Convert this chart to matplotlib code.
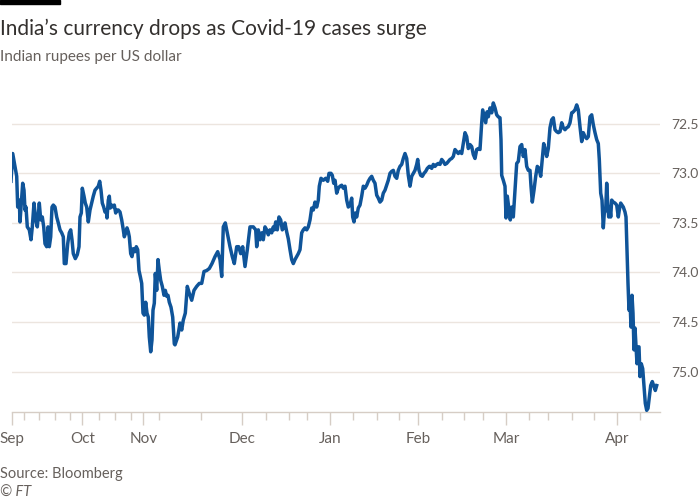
import numpy as np
import matplotlib
matplotlib.use("Agg")
import matplotlib.pyplot as plt

# session index (position along the trading timeline) and INR per USD
session = [
    11.0, 12.7, 15.0, 16.7, 17.7, 19.3, 20.0, 21.3, 22.7, 24.0, 25.0, 26.0, 27.3, 29.3, 31.0, 32.3,
    34.0, 35.7, 37.3, 39.3, 40.7, 42.3, 43.7, 45.0, 46.7, 48.0, 49.3, 50.7, 52.0, 53.3, 55.0, 56.7,
    58.3, 60.0, 61.7, 63.3, 64.3, 66.0, 67.7, 69.3, 70.7, 72.0, 73.3, 75.3, 77.3, 79.0, 80.0, 81.3,
    82.3, 84.0, 85.3, 86.7, 88.3, 90.0, 91.7, 93.3, 95.0, 96.7, 98.3, 99.7, 101.0, 102.3, 103.7, 105.0,
    106.3, 107.0, 108.3, 109.3, 110.3, 111.7, 113.3, 114.3, 115.7, 117.0, 118.3, 120.0, 121.7, 123.3, 124.3, 125.7,
    127.0, 128.3, 129.3, 130.7, 132.0, 133.3, 135.0, 136.3, 137.7, 139.0, 140.3, 141.7, 143.0, 144.3, 145.7, 147.0,
    148.3, 149.3, 150.7, 152.0, 153.0, 154.3, 155.3, 156.7, 158.0, 159.3, 160.7, 162.3, 164.0, 165.3, 166.7, 168.0,
    169.3, 171.0, 172.7, 174.3, 175.0, 177.7, 180.0, 181.7, 183.3, 185.3, 187.3, 189.3, 191.7, 194.0, 196.7, 199.3,
    201.7, 204.0, 206.7, 209.3, 212.0, 215.0, 217.7, 220.0, 221.7, 223.3, 225.3, 228.0, 230.0, 232.3, 234.3, 236.7,
    238.7, 240.7, 242.7, 245.0, 247.3, 250.0, 253.3, 255.7, 256.7, 258.3, 260.0, 261.7, 263.3, 265.0, 266.7, 268.3,
    270.0, 271.7, 273.3, 274.3, 275.7, 277.3, 279.0, 280.7, 282.3, 284.0, 285.0, 286.7, 288.3, 290.0, 291.7, 293.3,
    295.0, 296.7, 298.3, 300.0, 301.7, 303.3, 305.0, 306.7, 308.3, 310.0, 311.7, 313.3, 315.0, 316.7, 318.3, 319.3,
    321.0, 323.3, 325.7, 327.7, 329.0, 331.0, 332.3, 333.7, 335.0, 336.7, 338.3, 340.0, 341.7, 343.3, 345.0, 346.7,
    348.3, 350.0, 351.7, 352.7, 354.0, 355.3, 356.7, 358.3, 360.0, 361.7, 363.3, 365.0, 366.7, 368.3, 370.0, 371.7,
    373.3, 375.0, 376.7, 378.3, 380.0, 381.7, 383.3, 385.0, 386.7, 388.3, 390.0, 391.7, 393.3, 395.0, 396.7, 398.3,
    400.0, 401.7, 403.3, 405.0, 406.7, 408.3, 410.0, 411.7, 413.3, 415.0, 416.7, 417.7, 419.0, 420.7, 422.3, 424.0,
    425.7, 427.3, 429.3, 430.0, 431.7, 433.3, 435.0, 436.7, 438.3, 440.0, 441.7, 443.3, 445.0, 446.7, 448.3, 450.0,
    451.7, 453.3, 455.0, 456.7, 458.3, 460.0, 461.7, 463.3, 465.0, 466.7, 468.3, 470.0, 471.7, 473.3, 475.0, 476.7,
    478.3, 480.0, 481.7, 482.7, 484.3, 485.7, 487.0, 488.3, 490.0, 491.7, 493.3, 495.0, 496.7, 498.3, 500.0, 501.0,
    501.7, 503.3, 505.0, 506.0, 507.3, 509.0, 510.3, 511.7, 513.3, 515.0, 516.7, 518.3, 520.0, 521.7, 523.3, 525.0,
    526.7, 528.3, 530.0, 531.0, 532.3, 534.0, 535.7, 537.3, 539.0, 540.7, 542.3, 543.7, 545.0, 546.7, 548.3, 550.0,
    551.7, 553.3, 555.0, 556.7, 558.3, 560.0, 561.7, 563.3, 565.0, 566.7, 568.3, 570.0, 571.7, 573.3, 575.0, 576.7,
    578.3, 580.0, 581.7, 583.3, 585.0, 586.7, 588.3, 590.0, 591.7, 593.3, 595.0, 596.7, 598.3, 599.3, 600.7, 602.0,
    603.3, 604.3, 605.7, 606.7, 607.7, 608.7, 609.7, 610.7, 611.7, 613.3, 615.0, 616.7, 618.3, 619.3, 620.7, 622.0,
    623.3, 625.0, 626.0, 627.0, 628.0, 629.0, 630.0, 631.0, 632.0, 633.0, 634.0, 635.0, 636.0, 637.0, 638.0, 639.0,
    640.0, 641.3, 642.7, 644.0, 645.3, 646.7, 648.0, 649.3, 650.7, 652.3, 654.0, 655.3, 656.7,
]
rate = [
    73.08, 72.80, 72.93, 73.03, 73.34, 73.27, 73.49, 73.30, 73.10, 73.17, 73.37, 73.34, 73.54, 73.57, 73.67, 73.54,
    73.30, 73.47, 73.54, 73.30, 73.47, 73.44, 73.54, 73.71, 73.74, 73.54, 73.74, 73.64, 73.34, 73.32, 73.34, 73.44,
    73.50, 73.57, 73.60, 73.64, 73.91, 73.91, 73.71, 73.60, 73.57, 73.67, 73.81, 73.86, 73.82, 73.74, 73.44, 73.40,
    73.15, 73.23, 73.30, 73.34, 73.49, 73.37, 73.30, 73.23, 73.17, 73.15, 73.13, 73.08, 73.17, 73.30, 73.34, 73.39,
    73.37, 73.45, 73.27, 73.23, 73.35, 73.32, 73.34, 73.32, 73.40, 73.37, 73.37, 73.39, 73.47, 73.57, 73.64, 73.60,
    73.55, 73.59, 73.64, 73.81, 73.84, 73.76, 73.79, 73.74, 73.77, 73.98, 74.04, 74.11, 74.41, 74.43, 74.30, 74.41,
    74.45, 74.65, 74.80, 74.68, 74.38, 74.31, 74.01, 74.18, 73.87, 73.98, 74.08, 74.14, 74.23, 74.18, 74.24, 74.23,
    74.30, 74.35, 74.45, 74.72, 74.73, 74.65, 74.51, 74.58, 74.48, 74.41, 74.14, 74.21, 74.28, 74.18, 74.14, 74.11,
    74.11, 73.99, 73.98, 73.96, 73.91, 73.84, 73.79, 73.87, 74.04, 73.54, 73.50, 73.64, 73.74, 73.84, 73.91, 73.74,
    73.74, 73.81, 73.74, 73.94, 73.77, 73.54, 73.54, 73.57, 73.74, 73.57, 73.67, 73.60, 73.67, 73.54, 73.57, 73.62,
    73.57, 73.60, 73.54, 73.57, 73.49, 73.57, 73.44, 73.47, 73.57, 73.54, 73.50, 73.59, 73.66, 73.77, 73.87, 73.91,
    73.87, 73.84, 73.81, 73.77, 73.60, 73.57, 73.55, 73.57, 73.54, 73.47, 73.35, 73.37, 73.29, 73.34, 73.27, 73.13,
    73.05, 73.07, 73.05, 73.08, 73.00, 73.00, 73.02, 73.10, 73.07, 73.20, 73.15, 73.13, 73.12, 73.15, 73.13, 73.27,
    73.34, 73.32, 73.25, 73.44, 73.49, 73.40, 73.44, 73.35, 73.32, 73.23, 73.13, 73.15, 73.12, 73.08, 73.05, 73.03,
    73.07, 73.10, 73.22, 73.25, 73.29, 73.27, 73.20, 73.17, 73.12, 73.07, 73.00, 72.98, 72.97, 73.03, 73.05, 72.97,
    72.93, 72.91, 72.85, 72.80, 72.85, 73.02, 73.13, 73.03, 73.00, 72.97, 72.91, 72.86, 72.97, 73.02, 73.03, 73.00,
    72.98, 72.95, 72.93, 72.93, 72.95, 72.91, 72.93, 72.91, 72.90, 72.91, 72.86, 72.88, 72.91, 72.90, 72.88, 72.86,
    72.85, 72.83, 72.76, 72.78, 72.80, 72.78, 72.80, 72.70, 72.59, 72.63, 72.75, 72.71, 72.73, 72.81, 72.85, 72.76,
    72.75, 72.76, 72.49, 72.36, 72.43, 72.49, 72.38, 72.43, 72.34, 72.39, 72.29, 72.34, 72.41, 72.43, 72.44, 72.66,
    73.02, 73.07, 73.13, 73.45, 73.23, 73.37, 73.47, 73.34, 73.44, 73.17, 72.90, 72.88, 72.73, 72.71, 72.83, 72.76,
    72.93, 72.97, 72.97, 73.13, 73.29, 73.17, 73.03, 72.93, 72.95, 73.03, 72.86, 72.70, 72.75, 72.83, 72.75, 72.54,
    72.46, 72.44, 72.56, 72.58, 72.59, 72.58, 72.49, 72.54, 72.56, 72.54, 72.53, 72.49, 72.39, 72.38, 72.36, 72.31,
    72.36, 72.53, 72.68, 72.59, 72.63, 72.65, 72.63, 72.43, 72.41, 72.51, 72.59, 72.66, 72.70, 72.86, 73.20, 73.27,
    73.55, 73.40, 73.37, 73.10, 73.30, 73.44, 73.34, 73.44, 73.27, 73.29, 73.30, 73.32, 73.44, 73.37, 73.30, 73.32,
    73.34, 73.39, 73.44, 73.77, 74.11, 74.38, 74.28, 74.55, 74.23, 74.41, 74.78, 74.56, 74.75, 74.92, 74.75, 74.75,
    75.05, 74.92, 74.97, 75.15, 75.32, 75.39, 75.37, 75.26, 75.14, 75.10, 75.15, 75.19, 75.14,
]

month_labels = ["Sep", "Oct", "Nov", "Dec", "Jan", "Feb", "Mar", "Apr"]
month_pos = [11.7, 82.3, 143.3, 242.3, 330.3, 418.3, 506.0, 617.3]
week_pos = [24.3, 39.3, 55.0, 70.3, 99.3, 115.3, 130.7, 158.7, 200.7, 265.7, 288.7, 306.7,
            353.3, 376.7, 399.3, 441.7, 464.3, 483.3, 529.3, 548.3, 571.7, 594.3, 640.3]
y_ticks = [72.5, 73.0, 73.5, 74.0, 74.5, 75.0]

plt.rcParams['font.family'] = ['Lato', 'DejaVu Sans']

W, H = 700, 500
fig = plt.figure(figsize=(7, 5), dpi=100)
fig.patch.set_facecolor('white')

# axes placed in pixel terms
x0, x1, y_top, y_bot = 11.5, 660, 95, 412.3
ax = fig.add_axes([x0 / W, 1 - y_bot / H, (x1 - x0) / W, (y_bot - y_top) / H])
ax.set_facecolor('white')

ax.plot(session, rate, color='#0f5499', lw=2.5, solid_joinstyle='round', zorder=3)

ax.set_xlim(x0, x1)
ax.set_ylim(75.41, 72.21)

grid_c = '#ece5df'
tick_c = '#d6cdc5'
text_c = '#66605c'

ax.yaxis.tick_right()
ax.set_yticks(y_ticks)
ax.set_yticklabels([f"{v:.1f}" for v in y_ticks])
ax.tick_params(axis='y', length=0, pad=8, labelsize=10, labelcolor=text_c)
ax.grid(axis='y', color=grid_c, lw=1, zorder=0)

ax.set_xticks(month_pos)
ax.set_xticklabels(month_labels)
ax.set_xticks(week_pos, minor=True)
ax.tick_params(axis='x', which='major', length=9, width=1, color=tick_c,
               pad=5, labelsize=11, labelcolor=text_c)
ax.tick_params(axis='x', which='minor', length=6, width=1, color=tick_c)

for s in ['top', 'left', 'right']:
    ax.spines[s].set_visible(False)
ax.spines['bottom'].set_color(tick_c)
ax.spines['bottom'].set_linewidth(1)

# header bar and texts
fig.patches.append(plt.Rectangle((0, 1 - 4 / H), 60 / W, 4 / H, transform=fig.transFigure,
                                 color='black', zorder=5))
fig.text(0, 1 - 35 / H, "India\u2019s currency drops as Covid-19 cases surge",
         fontsize=15, color='#33302e', va='baseline', ha='left')
fig.text(0, 1 - 61.5 / H, "Indian rupees per US dollar",
         fontsize=11, color=text_c, va='baseline', ha='left')
fig.text(0, 1 - 474 / H, "Source: Bloomberg", fontsize=10.5, color=text_c, va='center', ha='left')
fig.text(0, 1 - 493 / H, "\u00a9 FT", fontsize=10.5, color=text_c, va='center', ha='left',
         style='italic')

fig.savefig("out.png", dpi=100, facecolor='white')
